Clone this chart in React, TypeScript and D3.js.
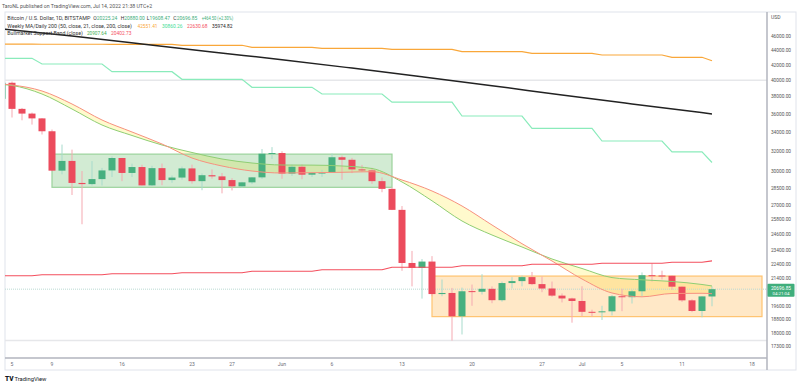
import React, { useEffect, useRef } from "react";
import * as d3 from "d3";

// BTC/USD daily candles (Bitstamp), 2022-05-04 .. 2022-07-14
const firstDay = "2022-05-04";
const lastDay = "2022-07-14";

const opens = [
  37730, 39690, 36552, 36013, 35472, 34060, 30080, 31017, 28936, 28830, 29290, 30101, 31305, 29862,
  30425, 28715, 30319, 29200, 29432, 30293, 29100, 29650, 29540, 29200, 28630, 28990, 29450, 31730,
  31800, 29800, 30450, 29700, 29860, 29900, 31380, 31130, 30200, 30100, 29100, 28400, 26580, 22480,
  22130, 22580, 20380, 20450, 19000, 20570, 20530, 20720, 19990, 21100, 21230, 21500, 21030, 20740,
  20280, 20100, 19940, 19270, 19240, 19300, 20240, 20180, 20560, 21630, 21610, 21590, 20860, 19980,
  19320, 20225.24,
];
const highs = [
  39980, 39845, 36660, 36130, 35500, 34245, 32659, 32143, 30040, 31000, 30343, 31460, 31319, 30750,
  30650, 30540, 30760, 29620, 30470, 30660, 29815, 30200, 29860, 29370, 29030, 29480, 32200, 32400,
  31980, 30650, 30680, 29960, 30160, 31750, 31550, 31320, 30630, 30350, 29440, 28540, 26900, 23350,
  22760, 22970, 21340, 20780, 20800, 21000, 21700, 20880, 21200, 21500, 21600, 21850, 21540, 21200,
  20420, 20150, 20890, 19400, 19640, 20320, 20720, 20650, 21820, 22450, 21940, 21600, 20870, 20050,
  20240, 20880,
];
const lows = [
  37670, 35571, 35258, 34785, 33713, 30032, 29730, 27857, 25400, 28700, 28700, 29480, 29100, 29480,
  28693, 28650, 28730, 28950, 29240, 28870, 28280, 29330, 28000, 28260, 28500, 28830, 29300, 31220,
  29320, 29580, 29280, 29490, 29500, 29890, 29230, 29850, 29950, 28850, 28100, 26560, 21930, 20880,
  20090, 20240, 20240, 17600, 17940, 19640, 20350, 19800, 19900, 20750, 20880, 20960, 20500, 20200,
  19850, 18620, 19000, 18980, 18780, 19050, 19310, 19780, 20250, 21200, 21340, 20660, 19880, 19250,
  18940, 19608.47,
];
const closes = [
  39690, 36552, 36013, 35472, 34060, 30080, 31017, 28936, 28830, 29290, 30101, 31305, 29862, 30425,
  28715, 30319, 29200, 29432, 30293, 29100, 29650, 29540, 29200, 28630, 28990, 29450, 31730, 31800,
  29800, 30450, 29700, 29860, 29900, 31380, 31130, 30200, 30100, 29100, 28400, 26580, 22480, 22130,
  22580, 20380, 20450, 19000, 20560, 20530, 20720, 19990, 21100, 21230, 21500, 21030, 20740, 20280,
  20100, 19940, 19270, 19240, 19300, 20240, 20180, 20560, 21630, 21590, 21590, 20860, 19980, 19320,
  20230, 20696.85,
];

// Weekly MA / Daily 200 (weekly values, each applies from its start day)
const weekStarts = [
  "2022-05-04", "2022-05-08", "2022-05-15", "2022-05-22", "2022-05-29", "2022-06-05",
  "2022-06-12", "2022-06-19", "2022-06-26", "2022-07-03", "2022-07-10", "2022-07-14",
];
const weeklyMa50 = [44830, 44815, 44800, 44672, 44390, 44250, 44110, 43778, 43555, 43325, 43010, 42551.41];
const weeklyMa21 = [42877, 42112, 41100, 40126, 39128, 38310, 37333, 35740, 34380, 33030, 31910, 30860.26];
const weeklyMa200 = [21592, 21659, 21728, 21796, 21900, 22004, 22178, 22283, 22390, 22460, 22530, 22630.68];

const dailyMaDates = [
  "2022-05-04", "2022-05-11", "2022-05-18", "2022-05-25", "2022-06-01", "2022-06-08",
  "2022-06-15", "2022-06-22", "2022-06-29", "2022-07-06", "2022-07-14",
];
const dailyMa200 = [47027, 45990, 44868, 43737, 42686, 41570, 40443, 39325, 38190, 37131, 35974.82];

// Bull market support band
const bandDates = [
  "2022-05-04", "2022-05-05", "2022-05-08", "2022-05-11", "2022-05-14", "2022-05-17", "2022-05-20",
  "2022-05-23", "2022-05-26", "2022-05-29", "2022-06-01", "2022-06-04", "2022-06-07", "2022-06-10",
  "2022-06-13", "2022-06-16", "2022-06-19", "2022-06-22", "2022-06-25", "2022-06-28", "2022-07-01",
  "2022-07-04", "2022-07-07", "2022-07-10", "2022-07-13", "2022-07-14",
];
const bandSma = [
  39474, 39350, 38308, 36538, 34739, 33608, 32615, 31853, 31206, 30815, 30621, 30610, 30525, 30285,
  29023, 27352, 25663, 24554, 23642, 22764, 22092, 21467, 21318, 21204, 21005, 20907.64,
];
const bandEma = [
  39537, 39412, 38673, 37119, 35292, 33981, 32718, 31305, 30525, 30047, 29858, 29887, 29924, 29981,
  29206, 28210, 26907, 25341, 23890, 22621, 21372, 20449, 20205, 20417, 20430, 20402.73,
];

// drawn rectangles and horizontal levels
const zoneStarts = ["2022-05-09", "2022-06-16"];
const zoneEnds = ["2022-06-12", "2022-07-19"];
const zoneTops = [31690, 21570];
const zoneBottoms = [28540, 18980];
const hLevels = [40000, 17600];

const priceTicks = [
  46000, 44000, 42000, 40000, 38000, 36000, 34000, 32000, 30000, 28500, 27000, 25800, 24600, 23400,
  22400, 21400, 20400, 19600, 18800, 18000, 17300,
];
const timeTickDates = [
  "2022-05-05", "2022-05-09", "2022-05-16", "2022-05-23", "2022-05-27", "2022-06-01", "2022-06-06",
  "2022-06-13", "2022-06-20", "2022-06-27", "2022-07-01", "2022-07-05", "2022-07-11", "2022-07-18",
];
const timeTickLabels = ["5", "9", "16", "23", "27", "Jun", "6", "13", "20", "27", "Jul", "5", "11", "18"];

const App = () => {
  const svgRef = useRef<SVGSVGElement>(null);

  useEffect(() => {
    const width = 800;
    const height = 386;
    const left = 5;
    const right = 767;
    const top = 12;
    const bottom = 358;
    const font = "Roboto, 'Liberation Sans', sans-serif";
    const parse = d3.utcParse("%Y-%m-%d");
    const dayMs = 86400000;

    const svg = d3.select(svgRef.current);
    svg.selectAll("*").remove();

    const x = d3
      .scaleUtc()
      .domain([parse("2022-05-05")!, parse("2022-07-18")!])
      .range([12, 752]);
    const y = d3.scaleLog().domain([17300, 46000]).range([346, 36]);

    const days = d3.utcDay.range(parse(firstDay)!, d3.utcDay.offset(parse(lastDay)!, 1));
    const candles = days.map((d, i) => ({
      date: d,
      o: opens[i],
      h: highs[i],
      l: lows[i],
      c: closes[i],
    }));

    svg.append("rect").attr("width", width).attr("height", height).attr("fill", "#fff");

    svg
      .append("defs")
      .append("clipPath")
      .attr("id", "plot")
      .append("rect")
      .attr("x", left)
      .attr("y", top)
      .attr("width", right - left)
      .attr("height", bottom - top);

    // pane frame
    svg
      .append("rect")
      .attr("x", left)
      .attr("y", top)
      .attr("width", 796 - left)
      .attr("height", 370 - top)
      .attr("fill", "none")
      .attr("stroke", "#e0e3eb")
      .attr("stroke-width", 1);

    const plot = svg.append("g").attr("clip-path", "url(#plot)");

    // horizontal levels
    plot
      .selectAll(".hlevel")
      .data(hLevels)
      .enter()
      .append("line")
      .attr("x1", left)
      .attr("x2", right)
      .attr("y1", (d) => y(d))
      .attr("y2", (d) => y(d))
      .attr("stroke", "#e6e7ea")
      .attr("stroke-width", 1.5);

    // support band fill
    const band = bandDates.map((d, i) => ({ date: parse(d)!, sma: bandSma[i], ema: bandEma[i] }));
    plot
      .append("path")
      .datum(band)
      .attr(
        "d",
        d3
          .area<any>()
          .curve(d3.curveMonotoneX)
          .x((d) => x(d.date))
          .y0((d) => y(d.ema))
          .y1((d) => y(d.sma))
      )
      .attr("fill", "rgba(255, 238, 88, 0.3)");

    // zones
    const zoneFill = ["rgba(76, 175, 80, 0.25)", "rgba(255, 152, 0, 0.22)"];
    const zoneStroke = ["#9bd39c", "#ffc370"];
    zoneStarts.forEach((s, i) => {
      plot
        .append("rect")
        .attr("x", x(parse(s)!))
        .attr("y", y(zoneTops[i]))
        .attr("width", x(parse(zoneEnds[i])!) - x(parse(s)!))
        .attr("height", y(zoneBottoms[i]) - y(zoneTops[i]))
        .attr("fill", zoneFill[i])
        .attr("stroke", zoneStroke[i])
        .attr("stroke-width", 1.2);
    });

    // current price line
    const last = closes[closes.length - 1];
    plot
      .append("line")
      .attr("x1", left)
      .attr("x2", right)
      .attr("y1", y(last))
      .attr("y2", y(last))
      .attr("stroke", "#b9d9d2")
      .attr("stroke-width", 1)
      .attr("stroke-dasharray", "1,1");

    // candles
    const up = "#47b07f";
    const down = "#ec4b5d";
    plot
      .selectAll(".wick")
      .data(candles)
      .enter()
      .append("line")
      .attr("x1", (d) => x(d.date))
      .attr("x2", (d) => x(d.date))
      .attr("y1", (d) => y(d.h))
      .attr("y2", (d) => y(d.l))
      .attr("stroke", (d) => (d.c >= d.o ? "#a7dbcc" : "#f5a9b1"))
      .attr("stroke-width", 1);

    plot
      .selectAll(".body")
      .data(candles)
      .enter()
      .append("rect")
      .attr("x", (d) => x(d.date) - 3.5)
      .attr("width", 7)
      .attr("y", (d) => y(Math.max(d.o, d.c)))
      .attr("height", (d) => Math.max(1, Math.abs(y(d.o) - y(d.c))))
      .attr("fill", (d) => (d.c >= d.o ? up : down));

    // band lines
    const bandLine = (key: "sma" | "ema") =>
      d3
        .line<any>()
        .curve(d3.curveMonotoneX)
        .x((d) => x(d.date))
        .y((d) => y(d[key]));
    plot
      .append("path")
      .datum(band)
      .attr("d", bandLine("sma"))
      .attr("fill", "none")
      .attr("stroke", "#8fce74")
      .attr("stroke-width", 1);
    plot
      .append("path")
      .datum(band)
      .attr("d", bandLine("ema"))
      .attr("fill", "none")
      .attr("stroke", "#f7917f")
      .attr("stroke-width", 1);

    // weekly step lines
    const stepPoints = (values: number[]) => {
      const pts: [number, number][] = [];
      weekStarts.forEach((s, i) => {
        const start = parse(s)!;
        const end =
          i < weekStarts.length - 1 ? new Date(parse(weekStarts[i + 1])!.getTime() - dayMs) : start;
        pts.push([x(start), y(values[i])]);
        if (end > start) pts.push([x(end), y(values[i])]);
      });
      return pts;
    };
    const weekly = [
      { values: weeklyMa50, color: "#f9a73a" },
      { values: weeklyMa21, color: "#8aebbb" },
      { values: weeklyMa200, color: "#f44f5e" },
    ];
    weekly.forEach((w) => {
      plot
        .append("path")
        .attr("d", d3.line()(stepPoints(w.values)))
        .attr("fill", "none")
        .attr("stroke", w.color)
        .attr("stroke-width", 1.2);
    });

    // daily 200
    plot
      .append("path")
      .datum(dailyMaDates.map((d, i) => ({ date: parse(d)!, v: dailyMa200[i] })))
      .attr(
        "d",
        d3
          .line<any>()
          .curve(d3.curveMonotoneX)
          .x((d) => x(d.date))
          .y((d) => y(d.v))
      )
      .attr("fill", "none")
      .attr("stroke", "#222")
      .attr("stroke-width", 1.5);

    // axes frames
    svg
      .append("line")
      .attr("x1", left)
      .attr("x2", right)
      .attr("y1", bottom)
      .attr("y2", bottom)
      .attr("stroke", "#b2b5be")
      .attr("stroke-width", 1.5);
    svg
      .append("line")
      .attr("x1", right)
      .attr("x2", right)
      .attr("y1", top)
      .attr("y2", 370)
      .attr("stroke", "#b2b5be")
      .attr("stroke-width", 1.5);

    // time labels
    svg
      .selectAll(".tlabel")
      .data(timeTickDates)
      .enter()
      .append("text")
      .attr("x", (d) => x(parse(d)!))
      .attr("y", 366)
      .attr("text-anchor", "middle")
      .style("font-family", font)
      .style("font-size", "5px")
      .attr("fill", "#6a6d78")
      .text((d, i) => timeTickLabels[i]);

    // price labels (the ones under the last-price badge are hidden, as on the chart)
    const ly = y(last);
    svg
      .selectAll(".plabel")
      .data(priceTicks.filter((d) => Math.abs(y(d) - ly) > 8))
      .enter()
      .append("text")
      .attr("x", 781)
      .attr("y", (d) => y(d) + 1.8)
      .attr("text-anchor", "middle")
      .style("font-family", font)
      .style("font-size", "4.8px")
      .attr("fill", "#555")
      .text((d) => d3.format(".2f")(d));

    svg
      .append("text")
      .attr("x", 771)
      .attr("y", 18.5)
      .style("font-family", font)
      .style("font-size", "5px")
      .attr("fill", "#555")
      .text("USD");

    // current price label
    svg
      .append("rect")
      .attr("x", 767.5)
      .attr("y", ly - 5.5)
      .attr("width", 27)
      .attr("height", 13)
      .attr("rx", 1)
      .attr("fill", "#3fae7c");
    svg
      .append("text")
      .attr("x", 781)
      .attr("y", ly + 1)
      .attr("text-anchor", "middle")
      .style("font-family", font)
      .style("font-size", "4.8px")
      .attr("fill", "#fff")
      .text(d3.format(".2f")(last));
    svg
      .append("text")
      .attr("x", 781)
      .attr("y", ly + 6)
      .attr("text-anchor", "middle")
      .style("font-family", font)
      .style("font-size", "4.4px")
      .attr("fill", "#fff")
      .text("04:21:04");

    // header line
    svg
      .append("text")
      .attr("x", 2)
      .attr("y", 8)
      .style("font-family", font)
      .style("font-size", "5.2px")
      .attr("fill", "#555")
      .text("TaroNL published on TradingView.com, Jul 14, 2022 21:38 UTC+2");

    // legend
    const legend = svg.append("g").style("font-family", font).style("font-size", "5px");
    const green = "#3cae7a";
    const piece = (txt: string, px: number, py: number, color: string, len?: number) => {
      const t = legend.append("text").attr("x", px).attr("y", py).attr("fill", color).text(txt);
      if (len) t.attr("textLength", len).attr("lengthAdjust", "spacingAndGlyphs");
    };
    piece("Bitcoin / U.S. Dollar, 1D, BITSTAMP", 7.3, 20, "#333", 83);
    piece("O", 93.3, 20, "#333");
    piece(d3.format(".2f")(opens[opens.length - 1]), 96.8, 20, green, 20.5);
    piece("H", 120.7, 20, "#333");
    piece(d3.format(".2f")(highs[highs.length - 1]), 124.3, 20, green, 20.5);
    piece("L", 146.7, 20, "#333");
    piece(d3.format(".2f")(lows[lows.length - 1]), 149.5, 20, green, 20.5);
    piece("C", 173.3, 20, "#333");
    piece(d3.format(".2f")(last), 176.8, 20, green, 20.5);
    piece("+464.50 (+2.30%)", 201.7, 20, green, 31.5);

    piece("Weekly MA/Daily 200 (50, close, 21, close, 200, close)", 7.3, 27.5, "#333", 124.5);
    piece(d3.format(".2f")(weeklyMa50[weeklyMa50.length - 1]), 137.5, 27.5, "#f9a73a", 20);
    piece(d3.format(".2f")(weeklyMa21[weeklyMa21.length - 1]), 162, 27.5, "#3fdc95", 20.5);
    piece(d3.format(".2f")(weeklyMa200[weeklyMa200.length - 1]), 187, 27.5, "#f44f5e", 20.5);
    piece(d3.format(".2f")(dailyMa200[dailyMa200.length - 1]), 212, 27.5, "#222", 20.5);

    piece("Bullmarket Support Band (close)", 7.3, 35.2, "#333", 75.5);
    piece(d3.format(".2f")(bandSma[bandSma.length - 1]), 87, 35.2, "#3fae4f", 19.5);
    piece(d3.format(".2f")(bandEma[bandEma.length - 1]), 111, 35.2, "#f44f5e", 20.5);

    // TradingView logo
    svg
      .append("text")
      .attr("x", 5)
      .attr("y", 381)
      .style("font-family", font)
      .style("font-size", "6.5px")
      .style("font-weight", "900")
      .attr("fill", "#131722")
      .text("TV");
    svg
      .append("text")
      .attr("x", 14.5)
      .attr("y", 381)
      .style("font-family", font)
      .style("font-size", "5.8px")
      .attr("fill", "#131722")
      .text("TradingView");
  }, []);

  return (
    <div style={{ position: "absolute", left: 0, top: 0 }}>
      <svg ref={svgRef} width={800} height={386} style={{ display: "block" }} />
    </div>
  );
};

export default App;
